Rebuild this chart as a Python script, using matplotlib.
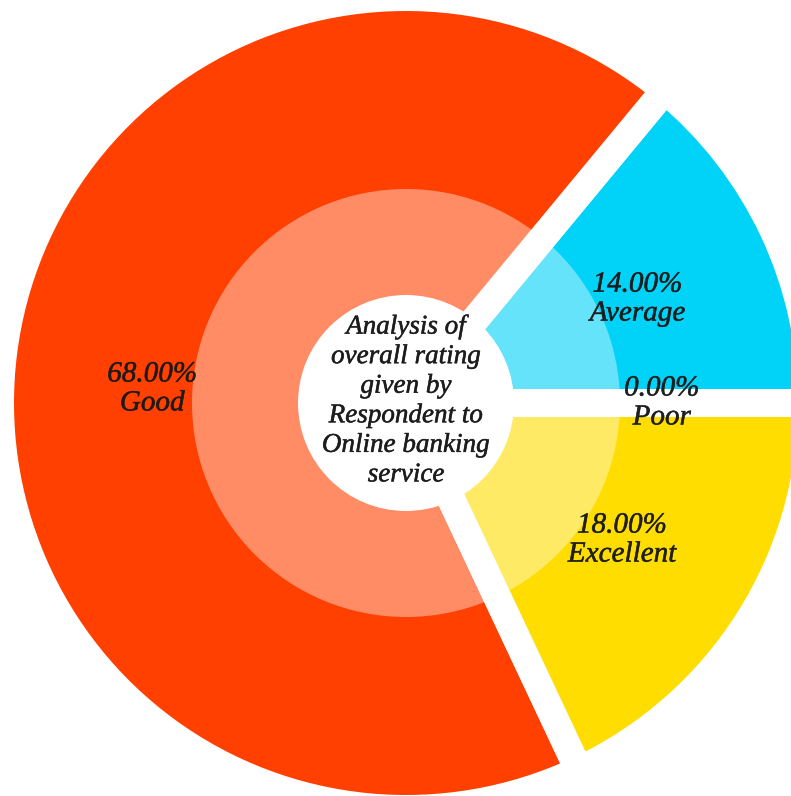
import matplotlib
matplotlib.use('Agg')
import matplotlib.pyplot as plt
import matplotlib.patheffects as pe
from matplotlib.patches import Circle

# overall rating shares (%), counter-clockwise from 3 o'clock
labels = ['Average', 'Good', 'Excellent', 'Poor']
shares = [14.0, 68.0, 18.0, 0.0]
colors = ['#00D2F8', '#FF4000', '#FFDD00', '#FFFFFF']
centre_text = 'Analysis of\noverall rating\ngiven by\nRespondent to\nOnline banking\nservice'

W, H = 791, 796
cx, cy = 406, 403     # pie centre in pixels (from top-left)
R = 392.0             # visible outer radius, pixels
gap = 28.0            # white gap between slices, pixels
r_light = 214 / R     # lighter inner band
r_hole = 108 / R      # white centre

font = dict(family=['Liberation Serif', 'DejaVu Serif'], style='italic')
# slightly heavier strokes on the labels
thick = [pe.withStroke(linewidth=0.4, foreground='#1a1a1a')]

fig = plt.figure(figsize=(W / 100, H / 100), dpi=100)
ax = fig.add_axes([0, 0, 1, 1])

wedges, texts, autotexts = ax.pie(
    shares, colors=colors, startangle=0, counterclock=True,
    radius=1 + gap / 2 / R, autopct='%.2f%%', pctdistance=0.63,
    wedgeprops=dict(edgecolor='white', linewidth=gap * 72 / 100),
    textprops=dict(fontsize=21, color='#1a1a1a', alpha=0.85,
                   linespacing=1.15, path_effects=thick, **font))

for t, lab in zip(autotexts, labels):
    t.set_text(t.get_text() + '\n' + lab)
# the big slice label sits a bit lower
x, y = autotexts[1].get_position()
autotexts[1].set_position((x, y - 18 / R))
x, y = autotexts[0].get_position()
autotexts[0].set_position((x, y - 5 / R))

ax.add_patch(Circle((0, 0), r_light, fc='white', alpha=0.4, lw=0))
ax.add_patch(Circle((0, 0), r_hole, fc='white', lw=0))

ax.text(0, 2 / R, centre_text, ha='center', va='center', fontsize=19.5,
        color='#1a1a1a', alpha=0.9, linespacing=1.24, path_effects=thick,
        **font)

ax.set_aspect('auto')
ax.set_xlim(-cx / R, (W - cx) / R)
ax.set_ylim((cy - H) / R, cy / R)
ax.axis('off')

fig.savefig('out.png', dpi=100)
